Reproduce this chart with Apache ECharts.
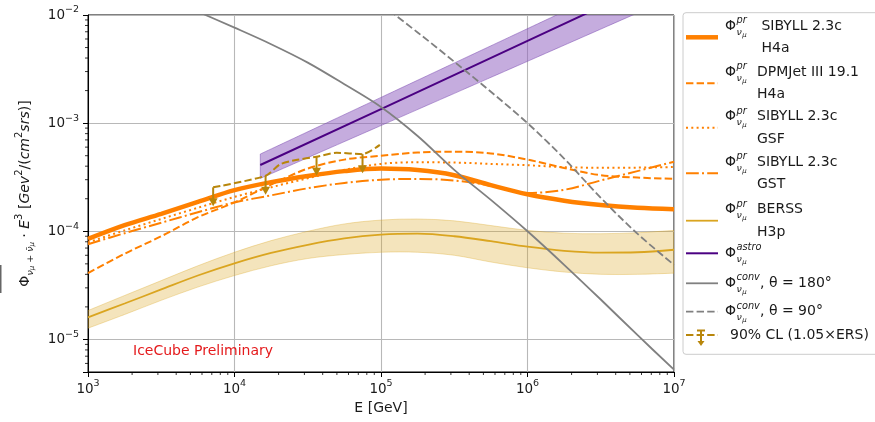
<!DOCTYPE html>
<html><head><meta charset="utf-8">
<script src="https://cdn.jsdelivr.net/npm/echarts@6/dist/echarts.min.js"></script>
<style>html,body{margin:0;padding:0;background:#fff}#c{width:875px;height:422px}</style>
</head><body><div id="c"></div>
<script>
// ---------------- data ----------------
const energy = [1000, 1778, 3162, 5623, 10000, 17783, 31623, 56234, 100000, 177828, 316228, 562341, 1000000, 1778279, 3162278, 5623413, 10000000];
const sibyllH4a = [8.5e-5, 1.14e-4, 1.45e-4, 1.87e-4, 2.4e-4, 2.85e-4, 3.25e-4, 3.6e-4, 3.8e-4, 3.68e-4, 3.3e-4, 2.67e-4, 2.2e-4, 1.92e-4, 1.75e-4, 1.65e-4, 1.6e-4];
const dpmjetH4a = [4.1e-5, 6.2e-5, 9.0e-5, 1.35e-4, 1.85e-4, 2.7e-4, 3.8e-4, 4.6e-4, 5.0e-4, 5.35e-4, 5.45e-4, 5.25e-4, 4.6e-4, 3.85e-4, 3.3e-4, 3.14e-4, 3.05e-4];
const sibyllGSF = [7.9e-5, 1.02e-4, 1.3e-4, 1.65e-4, 2.08e-4, 2.55e-4, 3.1e-4, 3.7e-4, 4.2e-4, 4.35e-4, 4.32e-4, 4.2e-4, 4.08e-4, 3.92e-4, 3.87e-4, 3.88e-4, 3.93e-4];
const sibyllGST = [7.6e-5, 9.6e-5, 1.2e-4, 1.5e-4, 1.85e-4, 2.15e-4, 2.5e-4, 2.8e-4, 3.0e-4, 3.05e-4, 2.95e-4, 2.65e-4, 2.26e-4, 2.42e-4, 2.95e-4, 3.6e-4, 4.4e-4];
const berssH3p = [1.6e-5, 2.15e-5, 2.9e-5, 3.9e-5, 5.05e-5, 6.3e-5, 7.5e-5, 8.6e-5, 9.3e-5, 9.5e-5, 9.0e-5, 8.1e-5, 7.2e-5, 6.6e-5, 6.35e-5, 6.4e-5, 6.75e-5];
const berssUpper = [1.85e-5, 2.55e-5, 3.5e-5, 4.8e-5, 6.4e-5, 8.2e-5, 1.0e-4, 1.17e-4, 1.27e-4, 1.3e-4, 1.25e-4, 1.13e-4, 1.02e-4, 9.6e-5, 9.5e-5, 9.7e-5, 1.02e-4];
const berssLower = [1.27e-5, 1.7e-5, 2.3e-5, 3.05e-5, 3.9e-5, 4.8e-5, 5.6e-5, 6.1e-5, 6.4e-5, 6.4e-5, 6.0e-5, 5.2e-5, 4.6e-5, 4.2e-5, 4.0e-5, 4.0e-5, 4.1e-5];
const astroEnergy = [15000, 100000, 1000000, 10000000];
const astroFlux = [4.1e-4, 1.35e-3, 5.77e-3, 2.46e-2];
const astroUpper = [5.18e-4, 1.73e-3, 7.48e-3, 3.24e-2];
const astroLower = [3.08e-4, 9.5e-4, 3.73e-3, 1.47e-2];
const conv180Energy = [5012, 10000, 17783, 31623, 56234, 100000, 177828, 316228, 562341, 1000000, 1778279, 3162278, 5623413, 10000000];
const conv180 = [1.15e-2, 7.64e-3, 5.37e-3, 3.63e-3, 2.29e-3, 1.41e-3, 7.6e-4, 3.7e-4, 1.95e-4, 1.0e-4, 4.9e-5, 2.34e-5, 1.1e-5, 5.25e-6];
const conv90Energy = [100000, 177828, 316228, 562341, 1000000, 1778279, 3162278, 5623413, 10000000];
const conv90 = [1.26e-2, 6.9e-3, 3.7e-3, 1.95e-3, 1.0e-3, 4.7e-4, 2.04e-4, 9.5e-5, 4.9e-5];
const limitEnergy = [7150, 16300, 20400, 26300, 36300, 49800, 74800, 98200];
const limitFlux = [2.55e-4, 3.26e-4, 4.15e-4, 4.56e-4, 4.89e-4, 5.32e-4, 5.17e-4, 6.3e-4];
const arrowEnergy = [7150, 16300, 36300, 74800];
const arrowFlux = [2.55e-4, 3.26e-4, 4.89e-4, 5.17e-4];
const xRange = [1e3, 1e7];
const yRange = [5e-6, 1e-2];
const minorMultipliers = [2, 3, 4, 5, 6, 7, 8, 9];
const xDecades = [1e3, 1e4, 1e5, 1e6];
const yDecades = [1e-6, 1e-5, 1e-4, 1e-3];
const legendEntries = [
  {key: 'sibyllH4a', sup: 'pr', lines: [' SIBYLL 2.3c', ' H4a']},
  {key: 'dpmjetH4a', sup: 'pr', lines: ['DPMJet III 19.1', 'H4a']},
  {key: 'sibyllGSF', sup: 'pr', lines: ['SIBYLL 2.3c', 'GSF']},
  {key: 'sibyllGST', sup: 'pr', lines: ['SIBYLL 2.3c', 'GST']},
  {key: 'berss', sup: 'pr', lines: ['BERSS', 'H3p']},
  {key: 'astro', sup: 'astro', lines: ['']},
  {key: 'conv180', sup: 'conv', lines: [', θ = 180°']},
  {key: 'conv90', sup: 'conv', lines: [', θ = 90°']},
  {key: 'limit', plain: '90% CL (1.05×ERS)'}
];

// ---------------- styles / layout ----------------
const FONT = "'DejaVu Sans', sans-serif";
const TXT = '#1a1a1a';
const ORANGE = '#ff8000';
const GOLD = '#daa520';
const OLIVE = '#b8860b';
const SMOOTH = 0.33;
const ST = {
  sibyllH4a: {color: ORANGE, width: 4.5, type: 'solid'},
  dpmjetH4a: {color: ORANGE, width: 2, type: [7.4, 3.2]},
  sibyllGSF: {color: ORANGE, width: 2, type: [2, 3.3]},
  sibyllGST: {color: ORANGE, width: 2, type: [12.8, 3.2, 2, 3.2]},
  berss: {color: GOLD, width: 1.8, type: 'solid'},
  astro: {color: '#4b0082', width: 2, type: 'solid'},
  conv180: {color: '#808080', width: 1.8, type: 'solid'},
  conv90: {color: '#808080', width: 1.8, type: [7.4, 3.2]},
  limit: {color: OLIVE, width: 2, type: [7.4, 3.2]}
};
const legendRowY = [37.3, 83.3, 127.7, 173.3, 220.7, 253.3, 283.3, 311.7, 335];

function pairs(xs, ys) { return xs.map((x, i) => [x, ys[i]]); }
function lineSeries(name, xs, ys, st, smooth, z) {
  return {
    type: 'line', name: name, data: pairs(xs, ys), symbol: 'none', showSymbol: false,
    smooth: smooth, clip: true, silent: true, z: z || 3,
    lineStyle: {color: st.color, width: st.width, type: st.type, cap: 'butt'},
    itemStyle: {color: st.color}
  };
}
function curvePath(pts, t, start) {
  let d = start ? 'M' + pts[0][0] + ' ' + pts[0][1] : ' L' + pts[0][0] + ' ' + pts[0][1];
  for (let i = 0; i < pts.length - 1; i++) {
    const p0 = pts[Math.max(i - 1, 0)], p1 = pts[i], p2 = pts[i + 1], p3 = pts[Math.min(i + 2, pts.length - 1)];
    const c1 = [p1[0] + (p2[0] - p0[0]) * t / 2, p1[1] + (p2[1] - p0[1]) * t / 2];
    const c2 = [p2[0] - (p3[0] - p1[0]) * t / 2, p2[1] - (p3[1] - p1[1]) * t / 2];
    d += ' C' + c1[0] + ' ' + c1[1] + ' ' + c2[0] + ' ' + c2[1] + ' ' + p2[0] + ' ' + p2[1];
  }
  return d;
}
function bandSeries(name, xs, lo, hi, fill, edge, t) {
  return {
    type: 'custom', name: name, data: [[xs[0], lo[0]]], silent: true, clip: true, z: 1,
    renderItem: function (params, api) {
      const up = xs.map((x, i) => api.coord([x, hi[i]]));
      const dn = xs.map((x, i) => api.coord([x, lo[i]])).reverse();
      const d = curvePath(up, t, true) + curvePath(dn, t, false) + ' Z';
      return {type: 'path', shape: {pathData: d}, style: {fill: fill, stroke: edge, lineWidth: 1}};
    }
  };
}
function isPow10(v) { const l = Math.log10(v); return Math.abs(l - Math.round(l)) < 1e-6; }
function powLabel(v) {
  if (!isPow10(v)) return '';
  const e = Math.round(Math.log10(v));
  return '{b|10}{s|' + (e < 0 ? '\u2212' + (-e) : e) + '}';
}
const labelRich = {
  b: {fontFamily: FONT, fontSize: 13.5, color: TXT, lineHeight: 20},
  s: {fontFamily: FONT, fontSize: 9.5, color: TXT, verticalAlign: 'top', lineHeight: 11}
};

const minorX = [], minorY = [];
xDecades.forEach(d => minorMultipliers.forEach(m => minorX.push([m * d, yRange[0]])));
yDecades.forEach(d => minorMultipliers.forEach(m => { const v = m * d; if (v > yRange[0] && v < yRange[1]) minorY.push([xRange[0], v]); }));

const series = [];
series.push(bandSeries('BERSS band', energy, berssLower, berssUpper, 'rgba(218,165,32,0.3)', 'rgba(218,165,32,0.32)', SMOOTH));
series.push(bandSeries('astro band', astroEnergy, astroLower, astroUpper, 'rgba(140,90,190,0.5)', 'rgba(120,70,175,0.5)', 0));
series.push(lineSeries('SIBYLL 2.3c H4a', energy, sibyllH4a, ST.sibyllH4a, SMOOTH, 3));
series.push(lineSeries('DPMJet III 19.1 H4a', energy, dpmjetH4a, ST.dpmjetH4a, SMOOTH, 3));
series.push(lineSeries('SIBYLL 2.3c GSF', energy, sibyllGSF, ST.sibyllGSF, SMOOTH, 3));
series.push(lineSeries('SIBYLL 2.3c GST', energy, sibyllGST, ST.sibyllGST, SMOOTH, 3));
series.push(lineSeries('BERSS H3p', energy, berssH3p, ST.berss, SMOOTH, 3));
series.push(lineSeries('astro', astroEnergy, astroFlux, ST.astro, false, 3));
series.push(lineSeries('conv 180', conv180Energy, conv180, ST.conv180, SMOOTH, 3));
series.push(lineSeries('conv 90', conv90Energy, conv90, ST.conv90, SMOOTH, 3));
series.push(lineSeries('90% CL (1.05×ERS)', limitEnergy, limitFlux, ST.limit, 0.25, 4));
series.push({
  type: 'custom', name: 'upper limits', data: pairs(arrowEnergy, arrowFlux), silent: true, z: 5, clip: false,
  renderItem: function (params, api) {
    const p = api.coord([api.value(0), api.value(1)]);
    return {type: 'group', children: [
      {type: 'line', shape: {x1: p[0], y1: p[1], x2: p[0], y2: p[1] + 13}, style: {stroke: OLIVE, lineWidth: 2}},
      {type: 'polygon', shape: {points: [[p[0] - 4.5, p[1] + 11], [p[0] + 4.5, p[1] + 11], [p[0], p[1] + 19]]}, style: {fill: OLIVE}}
    ]};
  }
});
series.push({
  type: 'custom', name: 'minorX', data: minorX, silent: true, clip: false, z: 6,
  renderItem: function (params, api) {
    const p = api.coord([api.value(0), api.value(1)]);
    return {type: 'line', shape: {x1: p[0], y1: p[1], x2: p[0], y2: p[1] + 3}, style: {stroke: '#000', lineWidth: 0.8}};
  }
});
series.push({
  type: 'custom', name: 'minorY', data: minorY, silent: true, clip: false, z: 6,
  renderItem: function (params, api) {
    const p = api.coord([api.value(0), api.value(1)]);
    return {type: 'line', shape: {x1: p[0], y1: p[1], x2: p[0] - 3, y2: p[1]}, style: {stroke: '#000', lineWidth: 0.8}};
  }
});

// ---------------- legend (graphic) ----------------
const graphic = [];
graphic.push({type: 'rect', shape: {x: 683, y: 12.7, width: 200, height: 341.6, r: 3}, style: {fill: 'rgba(255,255,255,0.85)', stroke: '#cccccc', lineWidth: 1}, z: 100});
function gText(x, y, text, size, fill, italic) {
  return {type: 'text', x: x, y: y, z: 101, style: {text: text, fill: fill || TXT, font: (italic ? 'italic ' : '') + size + 'px ' + FONT, textVerticalAlign: 'middle', verticalAlign: 'middle', textAlign: 'left', align: 'left'}};
}
legendEntries.forEach((en, i) => {
  const c = legendRowY[i];
  const st = ST[en.key];
  graphic.push({type: 'line', z: 101, shape: {x1: 686, y1: c, x2: 718, y2: c},
    style: {stroke: st.color, lineWidth: st.width, lineDash: Array.isArray(st.type) ? st.type : null}});
  if (en.plain) {
    graphic.push({type: 'line', z: 102, shape: {x1: 701, y1: c - 4.5, x2: 701, y2: c + 7}, style: {stroke: OLIVE, lineWidth: 2}});
    graphic.push({type: 'line', z: 102, shape: {x1: 697, y1: c - 4.5, x2: 705, y2: c - 4.5}, style: {stroke: OLIVE, lineWidth: 2}});
    graphic.push({type: 'polygon', z: 102, shape: {points: [[697.5, c + 6], [704.5, c + 6], [701, c + 11]]}, style: {fill: OLIVE}});
    graphic.push(gText(730, c, en.plain, 14));
    return;
  }
  const y1 = en.lines.length > 1 ? c - 11 : c;
  graphic.push(gText(725, y1, 'Φ', 14));
  graphic.push(gText(736.5, y1 - 5.5, en.sup, 9.8, TXT, true));
  graphic.push(gText(736.5, y1 + 6, 'ν', 9.5, TXT, true));
  graphic.push(gText(742.3, y1 + 8.5, 'μ', 7, TXT, true));
  const tx = en.sup === 'conv' ? 760 : 757;
  graphic.push(gText(tx, y1, en.lines[0], 14));
  if (en.lines.length > 1) graphic.push(gText(tx, c + 11.5, en.lines[1], 14));
});
graphic.push(gText(133, 351, 'IceCube Preliminary', 14, '#e41a1c'));
graphic.push({type: 'rect', shape: {x: 0, y: 265, width: 1.5, height: 28}, style: {fill: '#666'}, z: 100});

const yName = '{b|Φ}{s1|ν}{s2|μ}{s1| + ν\u0304}{s2|μ}{b| · }{i|E}{p|3}{b| [}{i|Gev}{p|2}{b|/(}{i|cm}{p|2}{i|srs}{b|)]}';

const option = {
  animation: false,
  backgroundColor: '#fff',
  grid: {left: 88, right: 201, top: 15, bottom: 50, show: true, borderColor: '#000', borderWidth: 1, backgroundColor: 'transparent', outerBoundsMode: 'none', containLabel: false},
  xAxis: {
    type: 'log', logBase: 10, min: xRange[0], max: xRange[1],
    name: 'E [GeV]', nameLocation: 'middle', nameGap: 28,
    nameTextStyle: {fontFamily: FONT, fontSize: 14, color: TXT},
    axisLine: {show: true, lineStyle: {color: '#000', width: 1}},
    axisTick: {show: true, inside: false, length: 5, lineStyle: {color: '#000', width: 1}},
    minorTick: {show: false},
    axisLabel: {show: true, margin: 7, formatter: powLabel, rich: labelRich, showMinLabel: true, showMaxLabel: true, hideOverlap: false},
    splitLine: {show: true, lineStyle: {color: '#b8b8b8', width: 1.1}}
  },
  yAxis: {
    type: 'log', logBase: 10, min: yRange[0], max: yRange[1],
    name: yName, nameLocation: 'middle', nameRotate: 90, nameGap: 52,
    nameTextStyle: {fontFamily: FONT, fontSize: 14, color: TXT, rich: {
      b: {fontFamily: FONT, fontSize: 14, color: TXT, lineHeight: 22},
      i: {fontFamily: FONT, fontSize: 14, fontStyle: 'italic', color: TXT, lineHeight: 22},
      s1: {fontFamily: FONT, fontSize: 9.5, fontStyle: 'italic', color: TXT, verticalAlign: 'bottom', lineHeight: 13},
      s2: {fontFamily: FONT, fontSize: 7, fontStyle: 'italic', color: TXT, verticalAlign: 'bottom', lineHeight: 10},
      p: {fontFamily: FONT, fontSize: 10, color: TXT, verticalAlign: 'top', lineHeight: 12}
    }},
    axisLine: {show: true, lineStyle: {color: '#000', width: 1}},
    axisTick: {show: true, inside: false, length: 5, lineStyle: {color: '#000', width: 1}},
    minorTick: {show: false},
    axisLabel: {show: true, margin: 9, formatter: powLabel, rich: labelRich, showMinLabel: true, showMaxLabel: true, hideOverlap: false},
    splitLine: {show: true, lineStyle: {color: '#b8b8b8', width: 1.1}}
  },
  graphic: graphic,
  series: series
};
const chart = echarts.init(document.getElementById('c'), null, {renderer: 'canvas'});
chart.setOption(option);
</script>
</body></html>
